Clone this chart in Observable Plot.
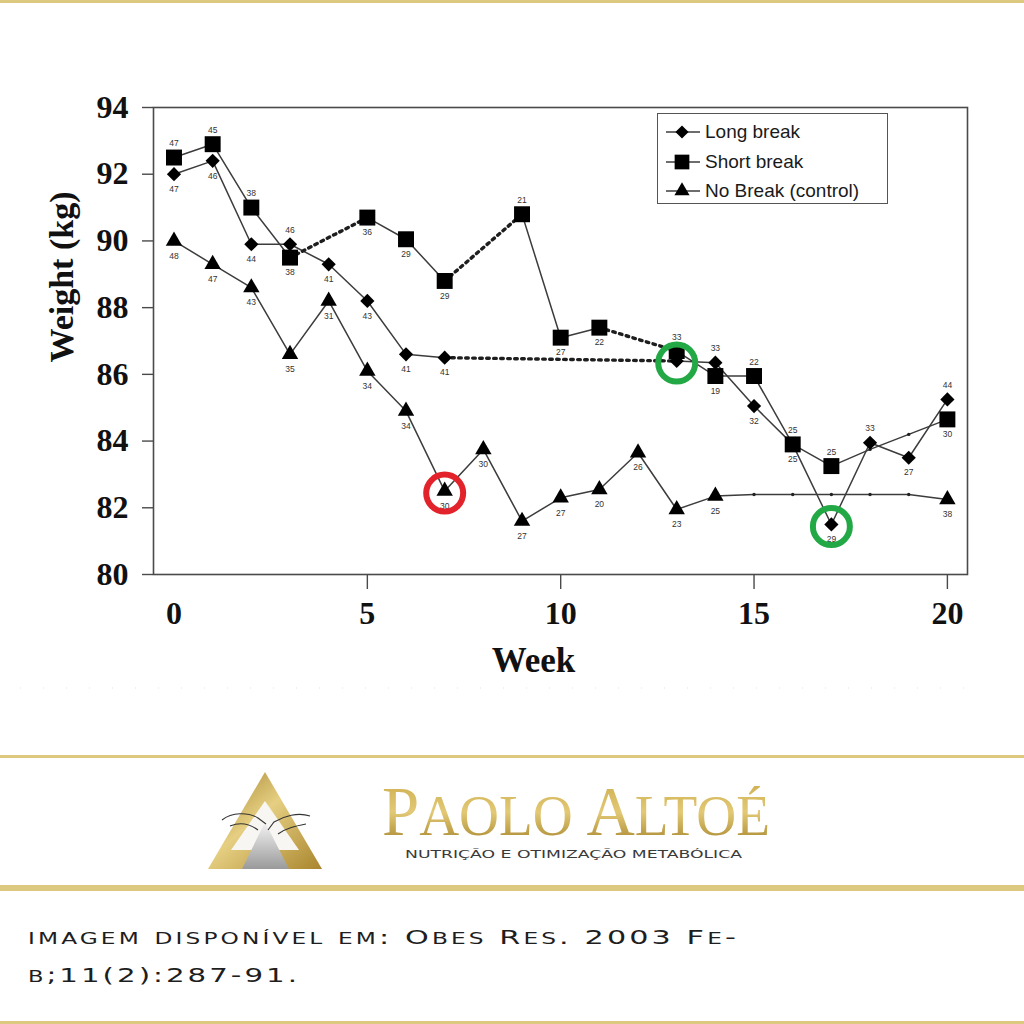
<!DOCTYPE html>
<html>
<head>
<meta charset="utf-8">
<script src="https://cdn.jsdelivr.net/npm/d3@7"></script>
<script src="https://cdn.jsdelivr.net/npm/@observablehq/plot@0.6"></script>
<style>
  html, body { margin: 0; padding: 0; background: #fff; }
  #page { position: relative; width: 1024px; height: 1024px; overflow: hidden; background: #fff; }
  #chart { position: absolute; left: 0; top: 0; }
  #deco { position: absolute; left: 0; top: 0; }
  #legend { position: absolute; left: 657px; top: 113px; width: 229px; height: 89px;
            border: 1.5px solid #555; background: #fff; font-family: "Liberation Sans", Arial, sans-serif;
            font-size: 19px; color: #1a1a1a; }
  .lrow { position: absolute; left: 0; height: 24px; line-height: 24px; white-space: nowrap; }
  .lrow svg { position: absolute; left: 6px; top: 0; }
  .lrow span { position: absolute; left: 47px; top: 0; }
</style>
</head>
<body>
<div id="page">
  <div id="chart"></div>
  <div id="legend"></div>
  <svg id="deco" width="1024" height="1024"></svg>
</div>
<script>
// ---------------- data ----------------
const weeks = [0,1,2,3,4,5,6,7,8,9,10,11,12,13,14,15,16,17,18,19,20];
const seriesNames = ["Long break", "Short break", "No Break (control)"];

const longBreak  = [92.0, 92.4, 89.9, 89.9, 89.3, 88.2, 86.6, 86.5, null, null, null, null, null, 86.4, 86.35, 85.05, 83.9, 81.5, 83.95, 83.5, 85.25];
const longBreakN = [47, 46, 44, 46, 41, 43, 41, 41, null, null, null, null, null, null, 33, 32, 25, 29, 33, 27, 44];
const longBreakNAbove = [3, 14, 18, 20];
const longBreakGaps = [[7, 13]];
const longBreakMinor = [];

const shortBreak  = [92.5, 92.9, 91.0, 89.5, null, 90.7, 90.05, 88.8, null, 90.8, 87.1, 87.4, null, 86.7, 85.95, 85.95, 83.9, 83.25, 83.75, 84.2, 84.65];
const shortBreakN = [47, 45, 38, 38, null, 36, 29, 29, null, 21, 27, 22, null, 33, 19, 22, 25, 25, null, null, 30];
const shortBreakNAbove = [0, 1, 2, 9, 13, 15, 16, 17];
const shortBreakGaps = [[3, 5], [7, 9], [11, 13]];
const shortBreakMinor = [18, 19];

const noBreak  = [90.0, 89.3, 88.6, 86.6, 88.2, 86.1, 84.9, 82.5, 83.75, 81.6, 82.3, 82.55, 83.65, 81.95, 82.35, 82.4, 82.4, 82.4, 82.4, 82.4, 82.25];
const noBreakN = [48, 47, 43, 35, 31, 34, 34, 30, 30, 27, 27, 20, 26, 23, 25, null, null, null, null, null, 38];
const noBreakNAbove = [];
const noBreakGaps = [];
const noBreakMinor = [15, 16, 17, 18, 19];

const yTicks = [80, 82, 84, 86, 88, 90, 92, 94];
const xTicks = [0, 5, 10, 15, 20];

// highlighted points (series, week)
const highlightSeries = ["No Break (control)", "Long break", "Long break"];
const highlightWeeks  = [7, 13, 17];
const highlightColors = ["#e3232b", "#23a846", "#23a846"];

const captionLines = ["imagem disponível em: Obes Res. 2003 Fe-", "b;11(2):287-91."];

// ---------------- build table ----------------
const table = [
  {name: seriesNames[0], values: longBreak,  n: longBreakN,  above: longBreakNAbove,  gaps: longBreakGaps,  minor: longBreakMinor,  symbol: "diamond2", r: 6.4},
  {name: seriesNames[1], values: shortBreak, n: shortBreakN, above: shortBreakNAbove, gaps: shortBreakGaps, minor: shortBreakMinor, symbol: "square",   r: 9.0},
  {name: seriesNames[2], values: noBreak,    n: noBreakN,    above: noBreakNAbove,    gaps: noBreakGaps,    minor: noBreakMinor,    symbol: "triangle", r: 6.1}
];

const rows = table.flatMap(s => weeks.map((w, i) => ({
  series: s.name, week: w, weight: s.values[i], n: s.n[i],
  above: s.above.includes(w), minor: s.minor.includes(w)
})));

const gapRows = table.flatMap(s => s.gaps.flatMap(([a, b]) => [a, b].map(w => ({
  id: s.name + "-" + a, series: s.name, week: w, weight: s.values[weeks.indexOf(w)]
}))));

const highlightRows = highlightSeries.map((name, i) => {
  const s = table.find(t => t.name === name);
  return {week: highlightWeeks[i], weight: s.values[weeks.indexOf(highlightWeeks[i])], color: highlightColors[i]};
});

const lineColor = "#3c3c3c";
const serif = "'Liberation Serif', 'Times New Roman', serif";
const sans = "'Liberation Sans', Arial, sans-serif";

const markerMarks = table.map(s => Plot.dot(rows.filter(d => d.series === s.name && d.weight != null && !d.minor), {
  x: "week", y: "weight", symbol: () => s.symbol, r: s.r, fill: "#000", stroke: "none"
}));

const chart = Plot.plot({
  width: 1024,
  height: 720,
  marginLeft: 153,
  marginRight: 57,
  marginTop: 107,
  marginBottom: 146,
  x: {domain: [-0.53, 20.52]},
  y: {domain: [80, 94]},
  color: {type: "identity"},
  symbol: {type: "identity"},
  style: {fontFamily: serif, background: "transparent", overflow: "visible"},
  marks: [
    Plot.frame({stroke: "#4a4a4a", strokeWidth: 1.6}),
    Plot.axisY(yTicks, {tickSize: 11, tickPadding: 14, fontSize: 32, fontWeight: "bold", fill: "#111", stroke: "#4a4a4a", strokeWidth: 1.4, label: null, fontFamily: serif}),
    Plot.axisX(xTicks.filter(d => d > 0), {tickSize: 15, text: null, stroke: "#4a4a4a", strokeWidth: 1.4, label: null}),
    Plot.axisX(xTicks, {tickSize: 0, tickPadding: 27, fontSize: 32, fontWeight: "bold", fill: "#111", label: null, fontFamily: serif}),
    Plot.text(["Week"], {frameAnchor: "bottom", lineAnchor: "middle", textAnchor: "middle", dx: -27, dy: 86, fontSize: 35, fontWeight: "bold", fill: "#111", fontFamily: serif}),
    Plot.text(["Weight (kg)"], {frameAnchor: "left", lineAnchor: "middle", textAnchor: "middle", rotate: -90, dx: -91, dy: -64, fontSize: 34, fontWeight: "bold", fill: "#111", fontFamily: serif}),
    // solid connecting lines
    Plot.line(rows, {x: "week", y: "weight", z: "series", stroke: lineColor, strokeWidth: 1.5}),
    // dashed lines across missed weeks (breaks)
    Plot.line(gapRows, {x: "week", y: "weight", z: "id", stroke: "#1e1e1e", strokeWidth: 3.4, strokeDasharray: "2.6,4.4"}),
    // small dots on unmarked weeks
    Plot.dot(rows.filter(d => d.minor && d.weight != null), {x: "week", y: "weight", r: 1.7, fill: "#222", stroke: "none"}),
    ...markerMarks,
    // sample-size labels
    Plot.text(rows.filter(d => d.n != null && d.above), {x: "week", y: "weight", text: "n", dy: -14, fontSize: 8.5, fill: "#333", fontFamily: sans}),
    Plot.text(rows.filter(d => d.n != null && !d.above), {x: "week", y: "weight", text: "n", dy: 15, fontSize: 8.5, fill: "#333", fontFamily: sans}),
    // highlight circles
    Plot.dot(highlightRows, {x: "week", y: "weight", r: 18.5, stroke: "color", strokeWidth: 6, fill: "none", dy: 2})
  ]
});
document.getElementById("chart").appendChild(chart);

// ---------------- legend ----------------
const symbolMap = {diamond2: d3.symbolDiamond2, square: d3.symbolSquare, triangle: d3.symbolTriangle};
const legend = d3.select("#legend");
table.forEach((s, i) => {
  const row = legend.append("div").attr("class", "lrow").style("top", (6 + i * 29.5) + "px");
  const svg = row.append("svg").attr("width", 38).attr("height", 24);
  svg.append("line").attr("x1", 2).attr("x2", 36).attr("y1", 12).attr("y2", 12).attr("stroke", lineColor).attr("stroke-width", 1.5);
  svg.append("path").attr("transform", "translate(18,12)")
     .attr("d", d3.symbol(symbolMap[s.symbol], Math.PI * s.r * s.r * 0.85)())
     .attr("fill", "#000");
  row.append("span").text(s.name);
});

// ---------------- decorations: gold rules, logo, brand, caption ----------------
const deco = d3.select("#deco");
const defs = deco.append("defs");
const g1 = defs.append("linearGradient").attr("id", "gold").attr("x1", "0%").attr("x2", "100%").attr("y1", "0%").attr("y2", "100%");
g1.append("stop").attr("offset", "0%").attr("stop-color", "#9b7a25");
g1.append("stop").attr("offset", "45%").attr("stop-color", "#e6cf82");
g1.append("stop").attr("offset", "100%").attr("stop-color", "#a9852d");
const g2 = defs.append("linearGradient").attr("id", "goldText").attr("x1", "0%").attr("x2", "0%").attr("y1", "0%").attr("y2", "100%");
g2.append("stop").attr("offset", "0%").attr("stop-color", "#c9a948");
g2.append("stop").attr("offset", "50%").attr("stop-color", "#e3c976");
g2.append("stop").attr("offset", "100%").attr("stop-color", "#9d7a22");
const g3 = defs.append("linearGradient").attr("id", "silver").attr("x1", "0%").attr("x2", "0%").attr("y1", "0%").attr("y2", "100%");
g3.append("stop").attr("offset", "0%").attr("stop-color", "#f4f4f4");
g3.append("stop").attr("offset", "100%").attr("stop-color", "#9a9a9a");

const gold = "#dcc87f";
deco.append("rect").attr("x", 0).attr("y", 0).attr("width", 1024).attr("height", 3).attr("fill", gold);
deco.append("rect").attr("x", 0).attr("y", 755).attr("width", 1024).attr("height", 3).attr("fill", gold);
deco.append("rect").attr("x", 0).attr("y", 885).attr("width", 1024).attr("height", 6).attr("fill", gold);
deco.append("rect").attr("x", 0).attr("y", 1021).attr("width", 1024).attr("height", 3).attr("fill", gold);
// faint dotted scan line under the chart
deco.append("line").attr("x1", 20).attr("x2", 985).attr("y1", 688).attr("y2", 688)
    .attr("stroke", "#e2e2e2").attr("stroke-width", 1.2).attr("stroke-dasharray", "1,22");

// logo
deco.append("path").attr("d", "M265,772 L208,869 L322,869 Z").attr("fill", "url(#gold)");
deco.append("path").attr("d", "M265,801 L231,850 L299,850 Z").attr("fill", "#f7f6f2");
deco.append("path").attr("d", "M265,822 L242,869 L289,869 Z").attr("fill", "url(#silver)");
deco.append("path").attr("d", "M222,820 C232,812 248,812 258,818 L266,824 M230,826 C240,822 250,824 258,830")
    .attr("fill", "none").attr("stroke", "#333").attr("stroke-width", 1.1);
deco.append("path").attr("d", "M310,816 C298,812 284,816 274,822 L268,830 M306,824 C296,826 286,828 278,834")
    .attr("fill", "none").attr("stroke", "#333").attr("stroke-width", 1.1);

// brand
const brand = deco.append("text").attr("x", 382).attr("y", 835)
  .attr("font-family", serif).attr("fill", "url(#goldText)")
  .attr("textLength", 388).attr("lengthAdjust", "spacingAndGlyphs");
brand.append("tspan").attr("font-size", 69).text("P");
brand.append("tspan").attr("font-size", 57).text("AOLO ");
brand.append("tspan").attr("font-size", 69).text("A");
brand.append("tspan").attr("font-size", 57).text("LTOÉ");
deco.append("text").attr("x", 405).attr("y", 858)
  .attr("font-family", "'DejaVu Sans', sans-serif").attr("font-size", 11).attr("fill", "#3a3a3a")
  .attr("textLength", 337).attr("lengthAdjust", "spacingAndGlyphs")
  .text("NUTRIÇÃO E OTIMIZAÇÃO METABÓLICA");

// caption (small caps built from tspans)
function smallCaps(textSel, str, big, small) {
  let buf = "", cur = null;
  const flush = () => { if (buf) textSel.append("tspan").attr("font-size", cur ? small : big).text(buf); buf = ""; };
  for (const ch of str) {
    const isLower = ch !== ch.toUpperCase();
    if (cur !== null && isLower !== cur) flush();
    cur = isLower;
    buf += isLower ? ch.toUpperCase() : ch;
  }
  flush();
}
const capWidths = [711, 272];
captionLines.forEach((line, i) => {
  const t = deco.append("text").attr("x", 28).attr("y", 944 + i * 38)
    .attr("font-family", "'DejaVu Sans', sans-serif").attr("fill", "#1e1e1e")
    .attr("letter-spacing", 2)
    .attr("textLength", capWidths[i]).attr("lengthAdjust", "spacingAndGlyphs");
  smallCaps(t, line, 19.5, 15);
});
</script>
</body>
</html>
